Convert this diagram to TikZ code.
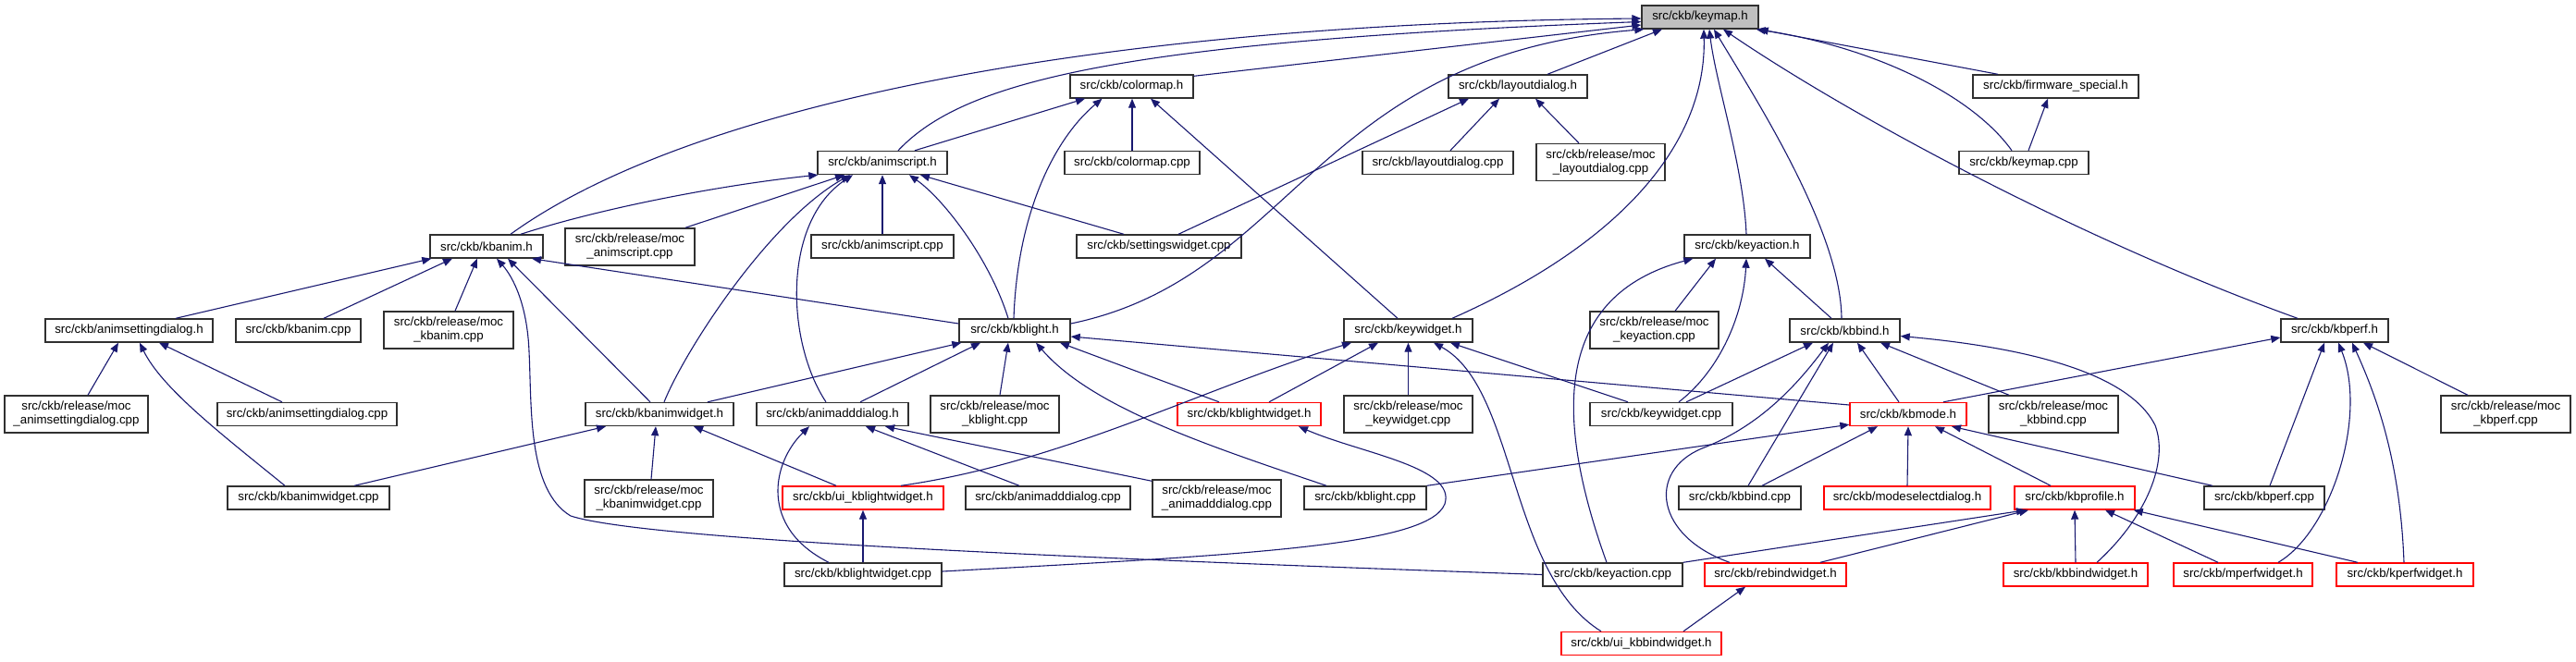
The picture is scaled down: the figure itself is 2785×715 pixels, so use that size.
\documentclass[tikz,border=0pt]{standalone}
\usepackage{fontspec}
\setmainfont{Liberation Sans}
\usetikzlibrary{arrows.meta}
\definecolor{edgecol}{HTML}{191970}
\definecolor{keygray}{HTML}{BFBFBF}
\definecolor{boxborder}{HTML}{303030}
\tikzset{
  bx/.style={draw=boxborder, line width=1.4pt, fill=white, rectangle, inner sep=0pt, align=center,
    minimum height=25pt, font=\fontsize{13.3}{15}\selectfont},
  rbx/.style={bx, draw=red},
  two/.style={minimum height=40pt},
  edge/.style={draw=edgecol, line width=1.1pt, -{Triangle[length=10pt,width=8pt]}}
}
\begin{document}
\begin{tikzpicture}[x=1pt,y=-1pt]
\useasboundingbox (0,0) rectangle (2785,715);
% row 0
\node[bx, fill=keygray, minimum width=126pt] (keymap) at (1838,18.5) {src/ckb/keymap.h};
% row 1
\node[bx, minimum width=133pt] (colormaph) at (1223.5,93.5) {src/ckb/colormap.h};
\node[bx, minimum width=150pt] (layoutdialogh) at (1641,93.5) {src/ckb/layoutdialog.h};
\node[bx, minimum width=179pt] (firmwareh) at (2222.5,93.5) {src/ckb/firmware\_special.h};
% row 2
\node[bx, minimum width=140pt] (animscripth) at (954,176) {src/ckb/animscript.h};
\node[bx, minimum width=146pt] (colormapcpp) at (1224,176) {src/ckb/colormap.cpp};
\node[bx, minimum width=163pt] (layoutdialogcpp) at (1554.5,176) {src/ckb/layoutdialog.cpp};
\node[bx, two, minimum width=139pt] (moclayoutdialog) at (1730.5,175.5) {src/ckb/release/moc\\\_layoutdialog.cpp};
\node[bx, minimum width=140pt] (keymapcpp) at (2188,176) {src/ckb/keymap.cpp};
% row 3
\node[bx, minimum width=122pt] (kbanimh) at (526,266.5) {src/ckb/kbanim.h};
\node[bx, two, minimum width=140pt] (mocanimscript) at (681,267) {src/ckb/release/moc\\\_animscript.cpp};
\node[bx, minimum width=154pt] (animscriptcpp) at (954,266.5) {src/ckb/animscript.cpp};
\node[bx, minimum width=178pt] (settingswidgetcpp) at (1253,266.5) {src/ckb/settingswidget.cpp};
\node[bx, minimum width=136pt] (keyactionh) at (1889,266.5) {src/ckb/keyaction.h};
% row 4
\node[bx, minimum width=181pt] (animsettingdialogh) at (139.5,357.5) {src/ckb/animsettingdialog.h};
\node[bx, minimum width=135pt] (kbanimcpp) at (322.5,357.5) {src/ckb/kbanim.cpp};
\node[bx, two, minimum width=140pt] (mockbanim) at (485,357) {src/ckb/release/moc\\\_kbanim.cpp};
\node[bx, minimum width=120pt] (kblighth) at (1097,357.5) {src/ckb/kblight.h};
\node[bx, minimum width=139pt] (keywidgeth) at (1522.5,357.5) {src/ckb/keywidget.h};
\node[bx, two, minimum width=139pt] (mockeyaction) at (1788.5,357) {src/ckb/release/moc\\\_keyaction.cpp};
\node[bx, minimum width=119pt] (kbbindh) at (1994.5,357.5) {src/ckb/kbbind.h};
\node[bx, minimum width=116pt] (kbperfh) at (2524,357.5) {src/ckb/kbperf.h};
% row 5
\node[bx, two, minimum width=155pt] (mocanimsettingdialog) at (82.5,448) {src/ckb/release/moc\\\_animsettingdialog.cpp};
\node[bx, minimum width=194pt] (animsettingdialogcpp) at (332,448) {src/ckb/animsettingdialog.cpp};
\node[bx, minimum width=160pt] (kbanimwidgeth) at (713,448) {src/ckb/kbanimwidget.h};
\node[bx, minimum width=164pt] (animadddialogh) at (900,448) {src/ckb/animadddialog.h};
\node[bx, two, minimum width=139pt] (mockblight) at (1075.5,448) {src/ckb/release/moc\\\_kblight.cpp};
\node[rbx, minimum width=155pt] (kblightwidgeth) at (1350.5,448) {src/ckb/kblightwidget.h};
\node[bx, two, minimum width=139pt] (mockeywidget) at (1522.5,448) {src/ckb/release/moc\\\_keywidget.cpp};
\node[bx, minimum width=154pt] (keywidgetcpp) at (1796,448) {src/ckb/keywidget.cpp};
\node[rbx, minimum width=126pt] (kbmodeh) at (2063,448) {src/ckb/kbmode.h};
\node[bx, two, minimum width=140pt] (mockbbind) at (2220,448) {src/ckb/release/moc\\\_kbbind.cpp};
\node[bx, two, minimum width=140pt] (mockbperf) at (2709,448) {src/ckb/release/moc\\\_kbperf.cpp};
% row 6
\node[bx, minimum width=175pt] (kbanimwidgetcpp) at (333.5,538.5) {src/ckb/kbanimwidget.cpp};
\node[bx, two, minimum width=139pt] (mockbanimwidget) at (701.5,539) {src/ckb/release/moc\\\_kbanimwidget.cpp};
\node[rbx, minimum width=174pt] (uikblightwidgeth) at (933,538.5) {src/ckb/ui\_kblightwidget.h};
\node[bx, minimum width=178pt] (animadddialogcpp) at (1133,538.5) {src/ckb/animadddialog.cpp};
\node[bx, two, minimum width=139pt] (mocanimadddialog) at (1315.5,539) {src/ckb/release/moc\\\_animadddialog.cpp};
\node[bx, minimum width=132pt] (kblightcpp) at (1476,538.5) {src/ckb/kblight.cpp};
\node[bx, minimum width=132pt] (kbbindcpp) at (1881,538.5) {src/ckb/kbbind.cpp};
\node[rbx, minimum width=180pt] (modeselectdialogh) at (2062,538.5) {src/ckb/modeselectdialog.h};
\node[rbx, minimum width=130pt] (kbprofileh) at (2243,538.5) {src/ckb/kbprofile.h};
\node[bx, minimum width=130pt] (kbperfcpp) at (2448,538.5) {src/ckb/kbperf.cpp};
% row 7
\node[bx, minimum width=170pt] (kblightwidgetcpp) at (933,621.5) {src/ckb/kblightwidget.cpp};
\node[bx, minimum width=151pt] (keyactioncpp) at (1743.5,621.5) {src/ckb/keyaction.cpp};
\node[rbx, minimum width=153pt] (rebindwidgeth) at (1919.5,621.5) {src/ckb/rebindwidget.h};
\node[rbx, minimum width=156pt] (kbbindwidgeth) at (2244,621.5) {src/ckb/kbbindwidget.h};
\node[rbx, minimum width=150pt] (mperfwidgeth) at (2425,621.5) {src/ckb/mperfwidget.h};
\node[rbx, minimum width=148pt] (kperfwidgeth) at (2600,621.5) {src/ckb/kperfwidget.h};
% row 8
\node[rbx, minimum width=173pt] (uikbbindwidgeth) at (1774.5,696) {src/ckb/ui\_kbbindwidget.h};

% ---- edges into keymap.h
\draw[edge] ([xshift=26pt]kbanimh.north) .. controls (750,110) and (1200,25) .. ([yshift=-1.5pt]keymap.west);
\draw[edge] ([xshift=17pt]animscripth.north) .. controls (1040,90) and (1200,45) .. ([yshift=-5pt]keymap.west);
\draw[edge] ([yshift=-2pt]colormaph.north east) -- ([yshift=-8.5pt]keymap.west);
\draw[edge] ([yshift=7.5pt]kblighth.east) .. controls (1400,300) and (1420,60) .. ([xshift=3pt]keymap.south west);
\draw[edge] ([xshift=32pt]layoutdialogh.north) -- ([xshift=-41pt]keymap.south);
\draw[edge] ([xshift=47.5pt]keywidgeth.north) .. controls (1760,260) and (1845,150) .. ([xshift=4pt]keymap.south);
\draw[edge] ([xshift=-1pt]keyactionh.north) .. controls (1885,180) and (1855,90) .. ([xshift=10pt]keymap.south);
\draw[edge] ([xshift=-3.5pt]kbbindh.north) .. controls (1990,250) and (1900,110) .. ([xshift=15pt]keymap.south);
\draw[edge] ([xshift=-40pt]kbperfh.north) .. controls (2250,260) and (2000,125) .. ([xshift=25pt]keymap.south);
\draw[edge] ([xshift=-62.5pt]firmwareh.north) -- (keymap.south east);
\draw[edge] ([xshift=-13pt]keymapcpp.north) .. controls (2130,100) and (2020,50) .. ([xshift=-3pt]keymap.south east);
% ---- colormap.h
\draw[edge] ([xshift=35pt]animscripth.north) -- ([xshift=-50.5pt]colormaph.south);
\draw[edge] ([xshift=-1pt]kblighth.north) .. controls (1100,230) and (1140,150) .. ([xshift=-32pt]colormaph.south);
\draw[edge] (colormapcpp.north) -- ([xshift=0.5pt]colormaph.south);
\draw[edge] ([xshift=-11.5pt]keywidgeth.north) -- ([xshift=20.5pt]colormaph.south);
% ---- layoutdialog.h
\draw[edge] ([xshift=21pt]settingswidgetcpp.north) -- ([xshift=-53pt]layoutdialogh.south);
\draw[edge] ([xshift=13.5pt]layoutdialogcpp.north) -- ([xshift=-20pt]layoutdialogh.south);
\draw[edge] ([xshift=-23.5pt]moclayoutdialog.north) -- ([xshift=19pt]layoutdialogh.south);
% ---- firmware_special.h
\draw[edge] ([xshift=5pt]keymapcpp.north) -- ([xshift=-8.5pt]firmwareh.south);
% ---- animscript.h
\draw[edge] ([xshift=37pt]kbanimh.north) .. controls (650,225) and (780,200) .. ([xshift=1pt]animscripth.south west);
\draw[edge] ([xshift=60pt]mocanimscript.north) -- ([xshift=-41pt]animscripth.south);
\draw[edge] ([xshift=5pt]kbanimwidgeth.north) .. controls (740,380) and (830,240) .. ([xshift=-35pt]animscripth.south);
\draw[edge] ([xshift=-7pt]animadddialogh.north) .. controls (850,370) and (845,240) .. ([xshift=-32pt]animscripth.south);
\draw[edge] (animscriptcpp.north) -- (animscripth.south);
\draw[edge] ([xshift=-7pt]kblighth.north) .. controls (1070,280) and (1020,215) .. ([xshift=29pt]animscripth.south);
\draw[edge] ([xshift=-38pt]settingswidgetcpp.north) -- ([xshift=41pt]animscripth.south);
% ---- kbanim.h
\draw[edge] ([xshift=50.5pt]animsettingdialogh.north) -- ([xshift=2pt]kbanimh.south west);
\draw[edge] ([xshift=27.5pt]kbanimcpp.north) -- ([xshift=-37pt]kbanimh.south);
\draw[edge] ([xshift=7pt]mockbanim.north) -- ([xshift=-10pt]kbanimh.south);
\draw[edge] (keyactioncpp.west) .. controls (1200,605) and (700,585) .. (617,558) .. controls (570,530) and (575,440) .. (572,380) .. controls (570,330) and (555,300) .. ([xshift=11pt]kbanimh.south);
\draw[edge] ([xshift=-10pt]kbanimwidgeth.north) -- ([xshift=23pt]kbanimh.south);
\draw[edge] ([yshift=7.5pt]kblighth.west) -- ([xshift=49pt]kbanimh.south);
% ---- animsettingdialog.h
\draw[edge] ([xshift=12.5pt]mocanimsettingdialog.north) -- ([xshift=-11.5pt]animsettingdialogh.south);
\draw[edge] ([xshift=-25.5pt]kbanimwidgetcpp.north) .. controls (240,470) and (175,420) .. ([xshift=11.5pt]animsettingdialogh.south);
\draw[edge] ([xshift=-27pt]animsettingdialogcpp.north) -- ([xshift=32.5pt]animsettingdialogh.south);
% ---- kbanimwidget.h
\draw[edge] ([xshift=49.5pt]kbanimwidgetcpp.north) -- ([xshift=-58pt]kbanimwidgeth.south);
\draw[edge] ([xshift=2.5pt]mockbanimwidget.north) -- ([xshift=-4pt]kbanimwidgeth.south);
\draw[edge] ([xshift=-29pt]uikblightwidgeth.north) -- ([xshift=37pt]kbanimwidgeth.south);
% ---- animadddialog.h
\draw[edge] ([xshift=-37pt]kblightwidgetcpp.north) .. controls (820,570) and (835,500) .. ([xshift=-25pt]animadddialogh.south);
\draw[edge] ([xshift=-31pt]animadddialogcpp.north) -- ([xshift=36pt]animadddialogh.south);
\draw[edge] ([yshift=-2pt]mocanimadddialog.north west) -- ([xshift=57pt]animadddialogh.south);
% ---- kblight.h
\draw[edge] ([xshift=52pt]kbanimwidgeth.north) -- ([xshift=3pt]kblighth.south west);
\draw[edge] ([xshift=30pt]animadddialogh.north) -- ([xshift=-37pt]kblighth.south);
\draw[edge] ([xshift=5.5pt]mockblight.north) -- ([xshift=-7pt]kblighth.south);
\draw[edge] ([xshift=-42pt]kblightcpp.north) .. controls (1300,480) and (1180,440) .. ([xshift=23pt]kblighth.south);
\draw[edge] ([xshift=-32.5pt]kblightwidgeth.north) -- ([xshift=49pt]kblighth.south);
\draw[edge] ([yshift=10pt]kbmodeh.west) -- ([yshift=-6.5pt]kblighth.east);
% ---- keywidget.h
\draw[edge] ([xshift=41pt]uikblightwidgeth.north) .. controls (1150,500) and (1300,420) .. ([xshift=-61.5pt]keywidgeth.south);
\draw[edge] ([xshift=21.5pt]kblightwidgeth.north) -- ([xshift=-32.5pt]keywidgeth.south);
\draw[edge] (mockeywidget.north) -- (keywidgeth.south);
\draw[edge] ([xshift=-43.5pt]uikbbindwidgeth.north) .. controls (1630,620) and (1640,420) .. ([xshift=27.5pt]keywidgeth.south);
\draw[edge] ([xshift=-36pt]keywidgetcpp.north) -- ([xshift=45.5pt]keywidgeth.south);
% ---- kblightwidget.h and ui_kblightwidget.h
\draw[edge] ([yshift=3.5pt]kblightwidgetcpp.east) .. controls (1350,600) and (1545,590) .. (1562,545) .. controls (1575,505) and (1470,490) .. ([xshift=53.5pt]kblightwidgeth.south);
\draw[edge] (kblightwidgetcpp.north) -- (uikblightwidgeth.south);
% ---- keyaction.h
\draw[edge] ([xshift=-6.5pt]keyactioncpp.north) .. controls (1680,450) and (1680,320) .. ([xshift=10pt]keyactionh.south west);
\draw[edge] ([xshift=22.5pt]mockeyaction.north) -- ([xshift=-34pt]keyactionh.south);
\draw[edge] ([xshift=19pt]keywidgetcpp.north) .. controls (1860,400) and (1885,340) .. ([xshift=-1pt]keyactionh.south);
\draw[edge] ([xshift=-14.5pt]kbbindh.north) -- ([xshift=19pt]keyactionh.south);
% ---- kbbind.h
\draw[edge] ([xshift=27pt]keywidgetcpp.north) -- ([xshift=-34.5pt]kbbindh.south);
\draw[edge] ([xshift=-49.5pt]rebindwidgeth.north) .. controls (1790,580) and (1780,510) .. (1840,485) .. controls (1900,462) and (1940,420) .. ([xshift=-17.5pt]kbbindh.south);
\draw[edge] ([xshift=9pt]kbbindcpp.north) -- ([xshift=-12.5pt]kbbindh.south);
\draw[edge] ([xshift=-10pt]kbmodeh.north) -- ([xshift=13.5pt]kbbindh.south);
\draw[edge] ([xshift=-48pt]mockbbind.north) -- ([xshift=38.5pt]kbbindh.south);
\draw[edge] ([xshift=23pt]kbbindwidgeth.north) .. controls (2320,560) and (2345,500) .. (2330,460) .. controls (2300,400) and (2180,375) .. ([yshift=-6pt]kbbindh.east);
% ---- kbmode.h
\draw[edge] (kblightcpp.north east) -- ([yshift=2pt]kbmodeh.south west);
\draw[edge] ([xshift=24pt]kbbindcpp.north) -- ([xshift=-33pt]kbmodeh.south);
\draw[edge] (modeselectdialogh.north) -- (kbmodeh.south);
\draw[edge] ([xshift=-26pt]kbprofileh.north) -- ([xshift=29pt]kbmodeh.south);
\draw[edge] ([xshift=-56pt]kbperfcpp.north) -- ([xshift=47pt]kbmodeh.south);
% ---- kbperf.h
\draw[edge] ([xshift=38pt]kbmodeh.north) -- ([yshift=-7.5pt]kbperfh.west);
\draw[edge] ([xshift=6pt]kbperfcpp.north) -- ([xshift=-11pt]kbperfh.south);
\draw[edge] ([xshift=38pt]mperfwidgeth.north) .. controls (2520,575) and (2560,450) .. ([xshift=4pt]kbperfh.south);
\draw[edge] ([xshift=-1pt]kperfwidgeth.north) .. controls (2595,500) and (2570,430) .. ([xshift=19pt]kbperfh.south);
\draw[edge] ([xshift=-41pt]mockbperf.north) -- ([xshift=31pt]kbperfh.south);
% ---- kbprofile.h
\draw[edge] (keyactioncpp.north east) -- ([xshift=-53pt]kbprofileh.south);
\draw[edge] ([xshift=48.5pt]rebindwidgeth.north) -- ([xshift=-50pt]kbprofileh.south);
\draw[edge] (kbbindwidgeth.north) -- (kbprofileh.south);
\draw[edge] ([xshift=-27pt]mperfwidgeth.north) -- ([xshift=33pt]kbprofileh.south);
\draw[edge] ([xshift=-51pt]kperfwidgeth.north) -- ([xshift=-2pt]kbprofileh.south east);
% ---- rebindwidget.h
\draw[edge] ([xshift=45.5pt]uikbbindwidgeth.north) -- ([xshift=-32.5pt]rebindwidgeth.south);
\end{tikzpicture}
\end{document}
